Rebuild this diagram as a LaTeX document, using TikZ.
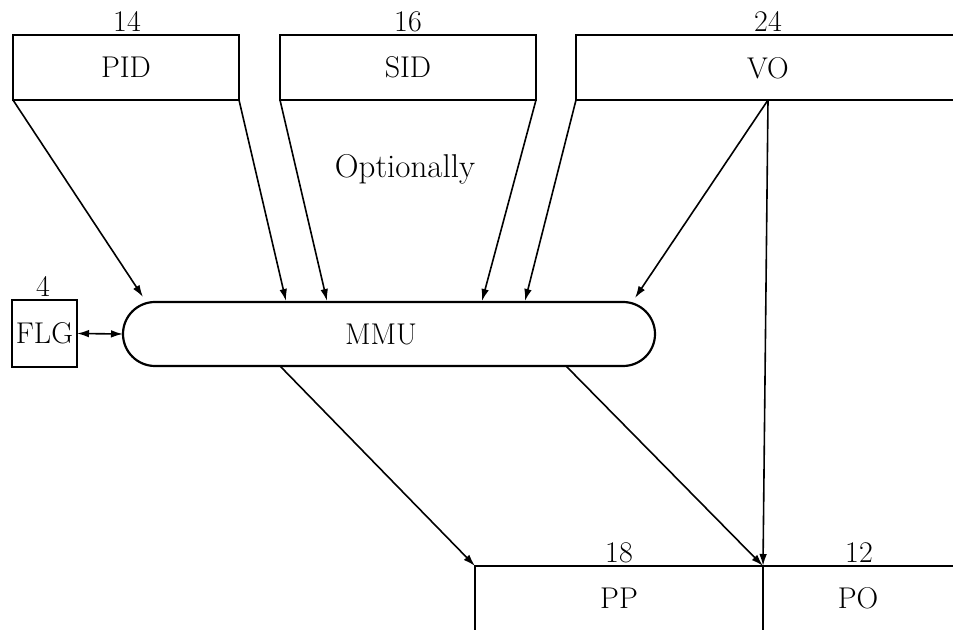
\documentclass[tikz,border=0pt]{standalone}
\usepackage{fontspec}
\usetikzlibrary{shapes.misc,arrows.meta}
\begin{document}
\begin{tikzpicture}[x=0.5pt,y=-0.5pt,
  lbl/.style={font=\fontsize{15}{18}\selectfont, inner sep=0pt, outer sep=0pt},
  frame/.style={line width=1.1pt},
  box/.style={draw, frame, inner sep=0pt, outer sep=0pt, font=\fontsize{15}{18}\selectfont},
  open/.style={inner sep=0pt, outer sep=0pt, font=\fontsize{15}{18}\selectfont},
  tip/.tip={Latex[length=6pt,width=3.8pt]},
  arr/.style={line width=0.8pt,-tip},
  darr/.style={line width=0.8pt,tip-tip},
]
\useasboundingbox (0,0) rectangle (953,630);

% top boxes
\node[box, anchor=north west, minimum width=113pt, minimum height=32.5pt] (pid) at (13,35) {PID};
\node[box, anchor=north west, minimum width=128pt, minimum height=32.5pt] (sid) at (280,35) {SID};
\node[open, anchor=north west, minimum width=188.5pt, minimum height=32.5pt] (vo) at (576,35) {};
\draw[frame] (vo.north east) -- (vo.north west) -- (vo.south west) -- (vo.south east);
\node[lbl] (votext) at (768,68) {VO};

% widths
\node[lbl, anchor=base] (n14) at (127,32) {14};
\node[lbl, anchor=base] (n16) at (408,32) {16};
\node[lbl, anchor=base] (n24) at (768,32) {24};

\node[lbl, font=\fontsize{16.5}{19}\selectfont, anchor=base] (opt) at (405,178) {Optionally};

% MMU and FLG
\node[box, rounded rectangle, minimum width=266pt, minimum height=32pt] (mmu) at (389,334) {};
\node[lbl] (mmutext) at (381,334) {MMU};
\node[box, minimum width=32.5pt, minimum height=33.5pt] (flg) at (44.5,333.5) {FLG};
\node[lbl, anchor=base] (n4) at (43,297) {4};
\draw[darr] (flg.east) -- (mmu.west);

% bottom boxes
\node[open, anchor=north west, minimum width=144pt, minimum height=32pt] (pp) at (475,566) {PP};
\node[open, anchor=north west, minimum width=95pt, minimum height=32pt] (po) at (763,566) {PO};
\draw[frame] (pp.south west) -- (pp.north west) -- (po.north east);
\draw[frame] (pp.north east) -- (pp.south east);
\node[lbl, anchor=base] (n18) at (619,562) {18};
\node[lbl, anchor=base] (n12) at (859,562) {12};

% points on MMU
\coordinate (m1) at (143,297);
\coordinate (m2) at (286,301);
\coordinate (m3) at (327,301);
\coordinate (m4) at (482,301);
\coordinate (m5) at (525,301);
\coordinate (m6) at (635,298);
\coordinate (b1) at (280,366);
\coordinate (b2) at (566,366);
\coordinate (vb) at (768,100);

% connectors into MMU
\draw[arr] (pid.south west) -- (m1);
\draw[arr] (pid.south east) -- (m2);
\draw[arr] (sid.south west) -- (m3);
\draw[arr] (sid.south east) -- (m4);
\draw[arr] (vo.south west) -- (m5);
\draw[arr] (vb) -- (m6);

% direct offset path
\draw[arr] (vb) -- (pp.north east);

% out of MMU
\draw[arr] (b1) -- (pp.north west);
\draw[arr] (b2) -- (pp.north east);
\end{tikzpicture}
\end{document}
